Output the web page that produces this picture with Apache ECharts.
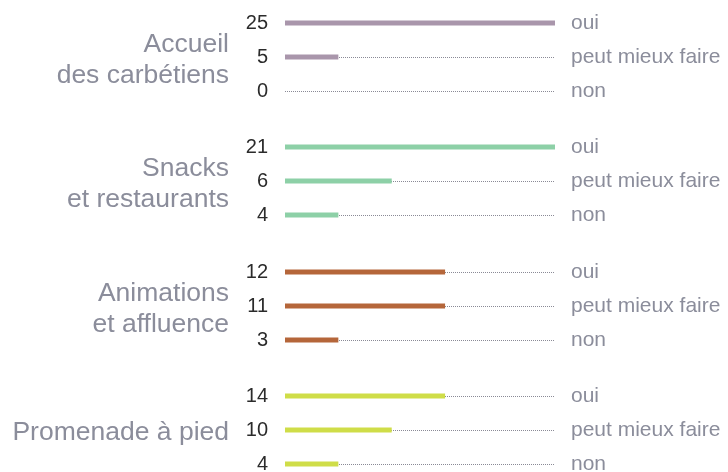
<!DOCTYPE html>
<html>
<head>
<meta charset="utf-8">
<script src="https://cdn.jsdelivr.net/npm/echarts@6/dist/echarts.min.js"></script>
<style>
  html, body { margin: 0; padding: 0; background: #fff; }
  #chart { width: 728px; height: 472px; }
</style>
</head>
<body>
<div id="chart"></div>
<script>
// groups of questions
const groups = ['Accueil\ndes carbétiens', 'Snacks\net restaurants', 'Animations\net affluence', 'Promenade à pied'];
const answers = ['oui', 'peut mieux faire', 'non'];
// numbers printed left of each bar
const counts = [
  [25, 5, 0],
  [21, 6, 4],
  [12, 11, 3],
  [14, 10, 4]
];
// bar lengths as drawn in the picture (scale 0..25)
const barLen = [
  [25, 5, 0],
  [25, 10, 5],
  [15, 15, 5],
  [15, 10, 5]
];
const colors = ['#a996ab', '#8dd0a7', '#b5663a', '#cfdd48'];

const tops = [23, 147, 272, 396];
const font = '"Liberation Sans", Arial, sans-serif';

const chart = echarts.init(document.getElementById('chart'));

const grid = [], xAxis = [], yAxis = [], series = [], graphic = [];
groups.forEach((g, i) => {
  grid.push({ left: 285, width: 270, top: tops[i], height: 68, outerBoundsMode: 'none' });
  xAxis.push({ type: 'value', gridIndex: i, min: 0, max: 25.3, show: false });
  yAxis.push({
    type: 'category', gridIndex: i, data: answers, inverse: true, boundaryGap: false,
    axisLine: { show: false }, axisTick: { show: false },
    splitLine: { show: true, lineStyle: { color: '#8a8a96', type: 'dotted', width: 1 } },
    axisLabel: {
      margin: 17, color: '#2b2b2b', fontSize: 20, fontFamily: font,
      formatter: (v, k) => String(counts[i][k])
    }
  });
  yAxis.push({
    type: 'category', gridIndex: i, data: answers, inverse: true, boundaryGap: false,
    position: 'right',
    axisLine: { show: false }, axisTick: { show: false }, splitLine: { show: false },
    axisLabel: { margin: 16, color: '#8b8d9b', fontSize: 21, fontFamily: font }
  });
  series.push({
    type: 'bar', xAxisIndex: i, yAxisIndex: i * 2, barWidth: 5,
    itemStyle: { color: colors[i] },
    data: barLen[i].map(v => v === 25 ? 25.3 : v), silent: true
  });
  graphic.push({
    type: 'text', right: 728 - 229, top: tops[i] + 37 - (g.includes('\n') ? 31 : 15.5),
    style: {
      text: g, fill: '#8b8d9b', font: '26.5px ' + font, lineHeight: 31, textAlign: 'right'
    }
  });
});

chart.setOption({
  animation: false,
  grid, xAxis, yAxis, series, graphic
});
</script>
</body>
</html>
